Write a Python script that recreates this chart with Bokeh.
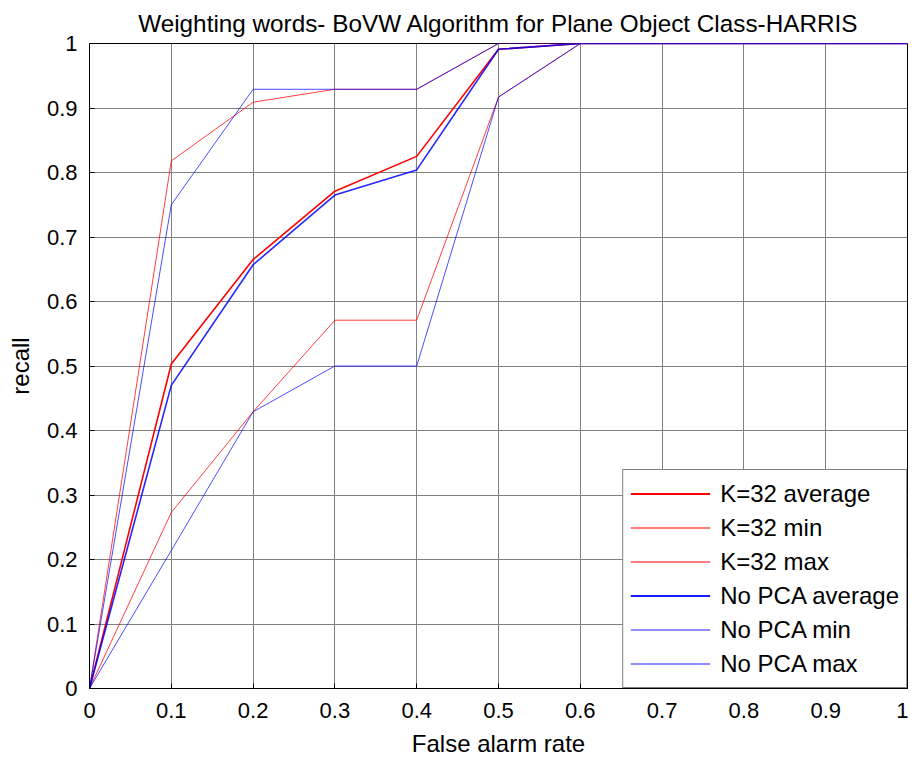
from bokeh.plotting import figure
from bokeh.models import Range1d, FixedTicker, Legend, LegendItem, Title
from bokeh.embed import file_html
from bokeh.resources import INLINE

# ---- data ----
far = [0.0, 0.1, 0.2, 0.3, 0.4, 0.5, 0.6, 0.7, 0.8, 0.9, 1.0]
k32_avg = [0.0, 0.503, 0.665, 0.771, 0.825, 0.991, 1.0, 1.0, 1.0, 1.0, 1.0]
k32_min = [0.0, 0.273, 0.429, 0.571, 0.571, 0.917, 1.0, 1.0, 1.0, 1.0, 1.0]
k32_max = [0.0, 0.818, 0.909, 0.929, 0.929, 1.0, 1.0, 1.0, 1.0, 1.0, 1.0]
nopca_avg = [0.0, 0.470, 0.657, 0.765, 0.804, 0.991, 1.0, 1.0, 1.0, 1.0, 1.0]
nopca_min = [0.0, 0.214, 0.429, 0.500, 0.500, 0.917, 1.0, 1.0, 1.0, 1.0, 1.0]
nopca_max = [0.0, 0.750, 0.929, 0.929, 0.929, 1.0, 1.0, 1.0, 1.0, 1.0, 1.0]

series_labels = ["K=32 average", "K=32 min", "K=32 max",
                 "No PCA average", "No PCA min", "No PCA max"]

tick_vals = [0.0, 0.1, 0.2, 0.3, 0.4, 0.5, 0.6, 0.7, 0.8, 0.9, 1.0]
tick_labels = ["0", "0.1", "0.2", "0.3", "0.4", "0.5", "0.6", "0.7", "0.8", "0.9", "1"]

FONT = "Liberation Sans"

p = figure(frame_width=818, frame_height=645, min_border_left=89, min_border_right=1,
           min_border_top=0, min_border_bottom=65,
           x_range=Range1d(0, 1), y_range=Range1d(0, 1),
           output_backend="svg", toolbar_location=None)

p.title = Title(text="Weighting words- BoVW Algorithm for Plane Object Class-HARRIS",
                align="center", text_font=FONT,
                text_font_size="24.3px", text_font_style="normal",
                text_color="black", standoff=14)

p.outline_line_color = "black"
p.outline_line_width = 1
p.background_fill_color = "white"
p.border_fill_color = "white"

overrides = {v: s for v, s in zip(tick_vals, tick_labels)}
for ax in (p.xaxis[0], p.yaxis[0]):
    ax.ticker = FixedTicker(ticks=tick_vals)
    ax.major_label_overrides = overrides
    ax.major_label_text_font = FONT
    ax.major_label_text_font_size = "22px"
    ax.major_label_text_color = "black"
    ax.axis_label_text_font = FONT
    ax.axis_label_text_font_size = "24px"
    ax.axis_label_text_font_style = "normal"
    ax.axis_label_text_color = "black"
    ax.axis_line_color = "black"
    ax.major_tick_in = 5
    ax.major_tick_out = 0
    ax.major_tick_line_color = "black"
    ax.minor_tick_line_color = None

p.xaxis.axis_label = "False alarm rate"
p.yaxis.axis_label = "recall"
p.xaxis.major_label_standoff = 14
p.yaxis.major_label_standoff = 12
p.xaxis.axis_label_standoff = 9
p.yaxis.axis_label_standoff = 10

p.grid.grid_line_color = "#808080"
p.grid.grid_line_width = 1

# data lines (blue drawn over red with transparency, giving purple overlaps)
p.line(far, k32_avg, line_color="#ff0000", line_width=1.6)
p.line(far, k32_min, line_color="#ff0000", line_width=1, line_alpha=0.75)
p.line(far, k32_max, line_color="#ff0000", line_width=1, line_alpha=0.75)
p.line(far, nopca_avg, line_color="#0000ff", line_width=1.6, line_alpha=0.85)
p.line(far, nopca_min, line_color="#0000ff", line_width=1, line_alpha=0.7)
p.line(far, nopca_max, line_color="#0000ff", line_width=1, line_alpha=0.7)

# legend proxies (solid colours, no visible data)
styles = [("#ff0000", 2), ("#ff5050", 1.5), ("#ff5050", 1.5),
          ("#1a1aff", 2), ("#6a6aff", 1.5), ("#6a6aff", 1.5)]
nan = float("nan")
items = []
for lab, (c, w) in zip(series_labels, styles):
    r = p.line([nan], [nan], line_color=c, line_width=w)
    items.append(LegendItem(label=lab, renderers=[r]))

legend = Legend(items=items, location="bottom_right")
legend.margin = 0
legend.padding = 7
legend.spacing = 1
legend.label_height = 33
legend.glyph_height = 33
legend.glyph_width = 80
legend.label_standoff = 10
legend.label_text_font = FONT
legend.label_text_font_size = "24px"
legend.label_text_color = "black"
legend.border_line_color = "black"
legend.border_line_width = 1
legend.background_fill_color = "white"
legend.background_fill_alpha = 1
p.add_layout(legend, "center")

open("out.html", "w").write(file_html(p, INLINE))
